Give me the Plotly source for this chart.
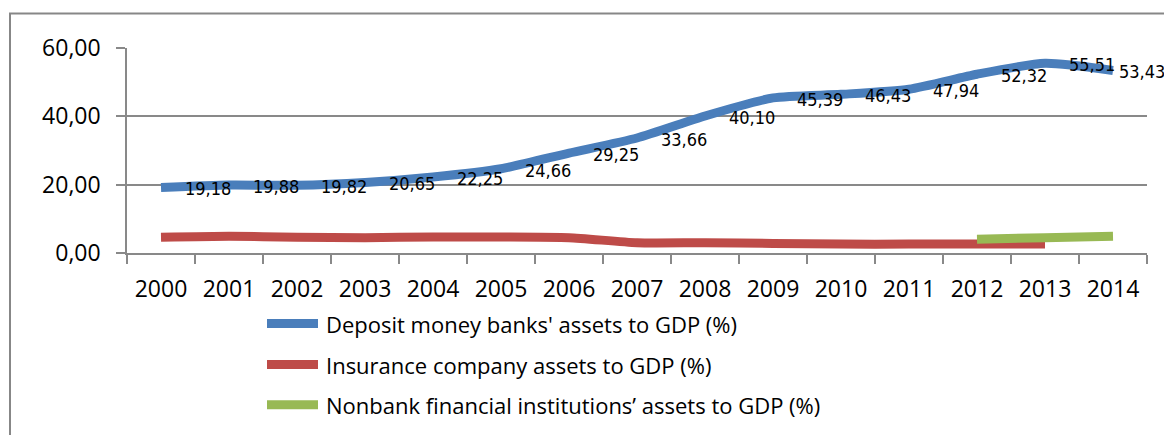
import plotly.graph_objects as go

# Financial depth indicators, 2000-2014 (% of GDP)
years = [str(y) for y in range(2000, 2015)]
deposit_banks = [19.18, 19.88, 19.82, 20.65, 22.25, 24.66, 29.25, 33.66,
                 40.10, 45.39, 46.43, 47.94, 52.32, 55.51, 53.43]
insurance = [4.6, 4.9, 4.6, 4.5, 4.7, 4.7, 4.5, 3.0, 3.0, 2.8, 2.6, 2.6, 2.6, 2.6]
insurance_years = years[:14]
nonbank = [4.0, 4.5, 4.9]
nonbank_years = years[12:]
y_ticks = [0, 20, 40, 60]

series_names = [
    "Deposit money banks' assets to GDP (%)",
    "Insurance company assets to GDP (%)",
    "Nonbank financial institutions\u2019 assets to GDP (%)",
]
colors = ["#4A7EBB", "#BE4B48", "#98B954"]

W, H = 1164, 435
L, R, T, B = 127, 17, 47.7, 182.3
plot_w = W - L - R
plot_h = H - T - B


def px_x(p):
    return (p - L) / plot_w


def px_y(p):
    return (H - B - p) / plot_h


axis_font = dict(family="Open Sans, Noto Sans, sans-serif", size=23, color="#000000")
legend_font = dict(family="Open Sans, Noto Sans, sans-serif", size=22, color="#000000")
label_font = dict(family="Liberation Sans Narrow, DejaVu Sans Condensed, sans-serif",
                  size=18, color="#000000")
grid_color = "#898989"

fig = go.Figure()
for xs, ys, name, c in [
    (years, deposit_banks, series_names[0], colors[0]),
    (insurance_years, insurance, series_names[1], colors[1]),
    (nonbank_years, nonbank, series_names[2], colors[2]),
]:
    fig.add_trace(go.Scatter(
        x=xs, y=ys, name=name, mode="lines",
        line=dict(color=c, width=9, shape="spline", smoothing=0.6),
        showlegend=False, cliponaxis=False,
    ))

# value labels for the deposit-bank series (x given as category position);
# the last one sits closer to its point so it stays inside the page
annotations = []
for i, v in enumerate(deposit_banks):
    last = i == len(deposit_banks) - 1
    annotations.append(dict(
        x=i, y=v, xref="x", yref="y",
        text=f"{v:.2f}".replace(".", ","),
        showarrow=False, xanchor="left", yanchor="middle",
        xshift=4 if last else 22, yshift=-1.5,
        font=label_font,
    ))

# legend drawn below the axis
legend_rows = [323.3, 364.3, 404.5]
shapes = []
for row_y, name, c in zip(legend_rows, series_names, colors):
    shapes.append(dict(type="line", xref="paper", yref="paper",
                       x0=px_x(267), x1=px_x(318), y0=px_y(row_y), y1=px_y(row_y),
                       line=dict(color=c, width=9)))
    annotations.append(dict(
        x=px_x(324), y=px_y(row_y), xref="paper", yref="paper",
        text=name, showarrow=False, xanchor="left", yanchor="middle",
        font=legend_font,
    ))

# chart-area frame
shapes.append(dict(type="rect", xref="paper", yref="paper",
                   x0=px_x(10), x1=px_x(1175), y0=px_y(13.3), y1=px_y(445),
                   line=dict(color="#878787", width=2), fillcolor="rgba(0,0,0,0)",
                   layer="below"))

fig.update_layout(
    width=W, height=H,
    margin=dict(l=L, r=R, t=T, b=B, pad=0),
    paper_bgcolor="#FFFFFF", plot_bgcolor="#FFFFFF",
    separators=",.",
    showlegend=False,
    annotations=annotations,
    shapes=shapes,
    xaxis=dict(
        type="category", range=[-0.5, 14.5], tickson="boundaries",
        showline=True, linecolor=grid_color, linewidth=1.5,
        ticks="outside", ticklen=9, tickcolor=grid_color, tickwidth=1.5,
        showgrid=False, tickfont=axis_font, ticklabelstandoff=15,
        fixedrange=True,
    ),
    yaxis=dict(
        range=[0, 60], tickvals=y_ticks, tickformat=".2f",
        showline=True, linecolor=grid_color, linewidth=1.5,
        ticks="outside", ticklen=9, tickcolor=grid_color, tickwidth=1.5,
        showgrid=True, gridcolor=grid_color, gridwidth=1.5,
        zeroline=False, tickfont=axis_font, ticklabelstandoff=11,
        fixedrange=True,
    ),
)

fig.write_html("out.html")
